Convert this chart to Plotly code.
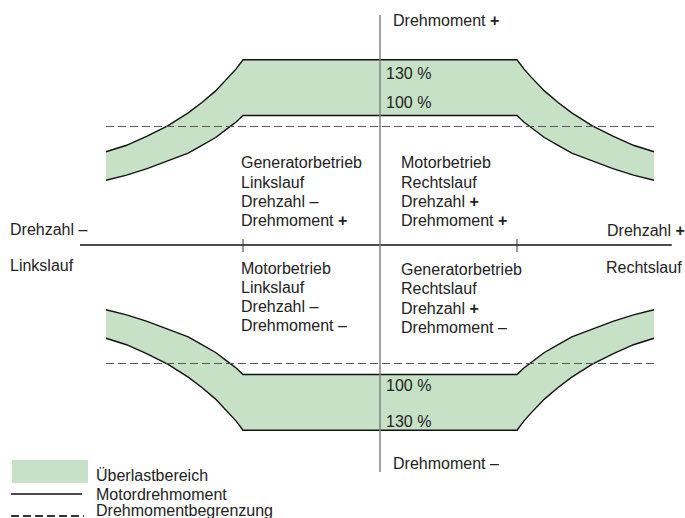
import plotly.graph_objects as go

# ---------------- data ----------------
# speed in % of nominal speed (kink of the curves = 100 %)
speed = [100, 105, 110, 120, 130, 140, 155, 170, 185, 200]
# overload limit (130 % curve, drawn height) and motor torque (100 % curve)
torque_overload = [143, 136, 130, 119, 110, 102, 92, 84, 77, 72]
torque_motor = [100, 95, 91, 83, 77, 71, 65, 59, 54, 50]
torque_limit = 91.5          # dashed torque limitation
speed_limit = [-200, 200]    # extent of dashed line
speed_axis = [-219, 213]     # extent of speed axis
torque_axis = [177.6, -175.3]
tick_speed = [-100, 100]

quadrant_texts = [
    ["Generatorbetrieb", "Linkslauf", "Drehzahl –", "Drehmoment <b>+</b>"],
    ["Motorbetrieb", "Rechtslauf", "Drehzahl <b>+</b>", "Drehmoment <b>+</b>"],
    ["Motorbetrieb", "Linkslauf", "Drehzahl –", "Drehmoment –"],
    ["Generatorbetrieb", "Rechtslauf", "Drehzahl <b>+</b>", "Drehmoment –"],
]
legend_labels = ["Überlastbereich", "Motordrehmoment", "Drehmomentbegrenzung"]

# ---------------- styling / layout helpers ----------------
OFF = 0                      # page body margin (removed below)
W, H = 685 - OFF, 518 - OFF  # figure size
PX0, PY0 = 380, 245          # origin in window pixels
SX, SY = 1.37, 1.295
GREEN = "rgb(198,225,197)"
FONT = "Liberation Sans, Arial, sans-serif"
FS = 16


def px_x(px):
    return (px - PX0) / SX


def px_y(py):
    return (PY0 - py) / SY


def pap(px, py):
    return (px - OFF) / W, 1 - (py - OFF) / H


xs_full = [-s for s in reversed(speed)] + speed
outer_full = list(reversed(torque_overload)) + torque_overload
inner_full = list(reversed(torque_motor)) + torque_motor

fig = go.Figure()
for sign in (1, -1):
    yo = [sign * v for v in outer_full]
    yi = [sign * v for v in inner_full]
    fig.add_trace(go.Scatter(
        x=xs_full + xs_full[::-1], y=yo + yi[::-1], fill="toself",
        fillcolor=GREEN, line=dict(width=0), mode="lines",
        hoverinfo="skip", showlegend=False))
    for yy in (yo, yi):
        fig.add_trace(go.Scatter(
            x=xs_full, y=yy, mode="lines",
            line=dict(color="#111111", width=1.4),
            hoverinfo="skip", showlegend=False))
    fig.add_trace(go.Scatter(
        x=speed_limit, y=[sign * torque_limit] * 2, mode="lines",
        line=dict(color="#555555", width=1.1, dash="8px,4px"),
        hoverinfo="skip", showlegend=False))

shapes = []
# speed axis
shapes.append(dict(type="line", xref="x", yref="y", x0=speed_axis[0], x1=speed_axis[1],
                   y0=0, y1=0, line=dict(color="#111111", width=1.3)))
for t in tick_speed:
    shapes.append(dict(type="line", xref="x", yref="y", x0=t, x1=t,
                       y0=px_y(239), y1=px_y(252), line=dict(color="#333333", width=1)))
# torque axis
shapes.append(dict(type="line", xref="x", yref="y", x0=0, x1=0,
                   y0=torque_axis[0], y1=torque_axis[1], line=dict(color="#808080", width=1.5)))

# legend keys
x0, y0 = pap(12, 460)
x1, y1 = pap(88, 483)
shapes.append(dict(type="rect", xref="paper", yref="paper", x0=x0, x1=x1, y0=y0, y1=y1,
                   fillcolor=GREEN, line=dict(width=0)))
a0, b0 = pap(11, 494)
a1, _ = pap(82, 494)
shapes.append(dict(type="line", xref="paper", yref="paper", x0=a0, x1=a1, y0=b0, y1=b0,
                   line=dict(color="#111111", width=1.3)))
a0, b0 = pap(11, 516)
a1, _ = pap(84, 516)
shapes.append(dict(type="line", xref="paper", yref="paper", x0=a0, x1=a1, y0=b0, y1=b0,
                   line=dict(color="#333333", width=2, dash="8px,4px")))

annotations = []


def add_text(text, px, py, xanchor="left", yanchor="middle", size=FS):
    x, y = pap(px, py)
    annotations.append(dict(text=text, x=x, y=y, xref="paper", yref="paper",
                            xanchor=xanchor, yanchor=yanchor, showarrow=False,
                            align="left", borderpad=0,
                            font=dict(family=FONT, size=size, color="#222222")))


# quadrant blocks (one annotation per line)
block_pos = [(240, 163), (400, 163), (240, 268), (400, 269.5)]
LS = 19.3
for lines, (bx, by) in zip(quadrant_texts, block_pos):
    for i, line in enumerate(lines):
        add_text(line, bx, by + i * LS)

add_text("Drehzahl –", 9, 229)
add_text("Linkslauf", 9, 265)
add_text("Drehzahl <b>+</b>", 686, 230, xanchor="right")
add_text("Rechtslauf", 683, 267, xanchor="right")
add_text("Drehmoment <b>+</b>", 392, 20)
add_text("Drehmoment –", 392, 463)
add_text("130 %", 385, 73)
add_text("100 %", 385, 103)
add_text("100 %", 385, 385)
add_text("130 %", 385, 421)

for lab, ly in zip(legend_labels, [475, 494, 510]):
    add_text(lab, 95, ly)

fig.update_layout(
    width=W, height=H, autosize=False,
    margin=dict(l=0, r=0, t=0, b=0),
    paper_bgcolor="white", plot_bgcolor="white",
    xaxis=dict(range=[px_x(OFF), px_x(685)], visible=False, fixedrange=True),
    yaxis=dict(range=[px_y(518), px_y(OFF)], visible=False, fixedrange=True),
    shapes=shapes, annotations=annotations, showlegend=False,
)

fig.write_html(
    "out.html",
    config={"displayModeBar": False, "staticPlot": True},
    post_script="document.body.style.margin='0';document.body.style.overflow='hidden';",
)
